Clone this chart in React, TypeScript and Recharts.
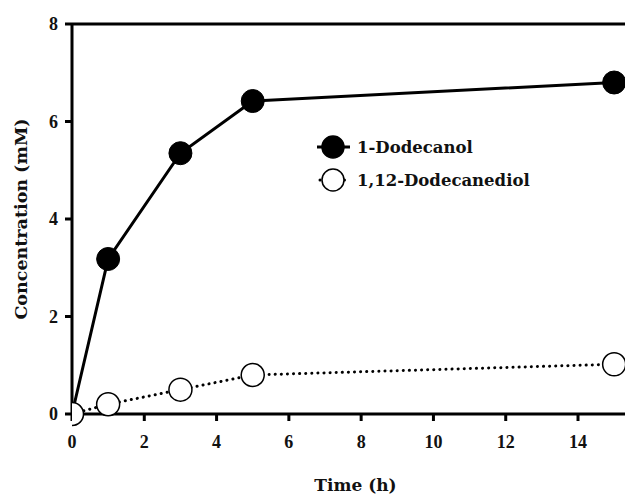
import { LineChart, Line, XAxis, YAxis, ReferenceLine } from 'recharts'

const times = [0, 1, 3, 5, 15]
const dodecanol = [0, 3.18, 5.35, 6.42, 6.8]
const dodecanediol = [0, 0.2, 0.5, 0.8, 1.02]
const xTicks = [0, 2, 4, 6, 8, 10, 12, 14]
const yTicks = [0, 2, 4, 6, 8]
const seriesNames = ['1-Dodecanol', '1,12-Dodecanediol']

const data = times.map((t, i) => ({ t, a: dodecanol[i], b: dodecanediol[i] }))

const FONT = '"DejaVu Serif", serif'
const TICK_FONT = '"Liberation Serif", "Times New Roman", serif'

function XTick(props: any) {
  const { x, y, payload } = props
  return (
    <text x={x} y={y + 13} textAnchor="middle" style={{ fontFamily: TICK_FONT, fontWeight: 700, fontSize: '18px' }} fill="#111">
      {payload.value}
    </text>
  )
}

function YTick(props: any) {
  const { x, y, payload } = props
  return (
    <text x={x} y={y + 6} textAnchor="end" style={{ fontFamily: TICK_FONT, fontWeight: 700, fontSize: '18px' }} fill="#111">
      {payload.value}
    </text>
  )
}

function LegendBox() {
  return (
    <svg width={240} height={70} style={{ position: 'absolute', left: 312, top: 130, pointerEvents: 'none' }}>
      <line x1={5} y1={17} x2={38} y2={17} stroke="#000" strokeWidth={3} />
      <circle cx={21} cy={17} r={11} fill="#000" stroke="#000" strokeWidth={1.5} />
      <text x={45} y={23} fontFamily={FONT} fontWeight="bold" fontSize={16.5} fill="#111">
        {seriesNames[0]}
      </text>
      <line x1={8} y1={50} x2={36} y2={50} stroke="#000" strokeWidth={3} strokeDasharray="0.1 6" strokeLinecap="round" />
      <circle cx={21} cy={50} r={11} fill="#fff" stroke="#000" strokeWidth={1.5} />
      <text x={45} y={56} fontFamily={FONT} fontWeight="bold" fontSize={16.5} fill="#111">
        {seriesNames[1]}
      </text>
    </svg>
  )
}

export default function App() {
  return (
    <div style={{ width: 625, height: 494, position: 'relative' }}>
      <style>{'body{margin:0}'}</style>
      <LineChart width={625} height={494} data={data} margin={{ top: 24, right: 0, left: 0, bottom: 0 }}>
        <XAxis
          dataKey="t"
          type="number"
          domain={[0, 15.3]}
          ticks={xTicks}
          allowDataOverflow
          height={80}
          axisLine={{ stroke: '#000', strokeWidth: 3 }}
          tickLine={{ stroke: '#000', strokeWidth: 3 }}
          tickSize={7}
          tick={<XTick />}
          tickMargin={14}
          label={{ value: 'Time (h)', position: 'insideBottom', offset: 0, fill: '#111', fontFamily: FONT, fontWeight: 'bold', fontSize: 17, dx: 7, dy: -3 }}
        />
        <YAxis
          type="number"
          domain={[0, 8]}
          ticks={yTicks}
          width={72}
          axisLine={{ stroke: '#000', strokeWidth: 3 }}
          tickLine={{ stroke: '#000', strokeWidth: 3 }}
          tickSize={7}
          tickMargin={7}
          tick={<YTick />}
          label={{ value: 'Concentration (mM)', angle: -90, position: 'insideLeft', offset: 21, fill: '#111', fontFamily: FONT, fontWeight: 'bold', fontSize: 17.5, style: { textAnchor: 'middle' } }}
        />
        <ReferenceLine y={8} stroke="#000" strokeWidth={3} />
        <Line
          dataKey="a"
          name={seriesNames[0]}
          stroke="#000"
          strokeWidth={3}
          dot={{ r: 11.5, fill: '#000', stroke: '#000', strokeWidth: 1 }}
          isAnimationActive={false}
        />
        <Line
          dataKey="b"
          name={seriesNames[1]}
          stroke="#000"
          strokeWidth={3}
          strokeDasharray="0.1 6"
          strokeLinecap="round"
          dot={{ r: 11.5, fill: '#fff', stroke: '#000', strokeWidth: 1.5, strokeDasharray: '' }}
          isAnimationActive={false}
        />
      </LineChart>
      <LegendBox />
    </div>
  )
}
